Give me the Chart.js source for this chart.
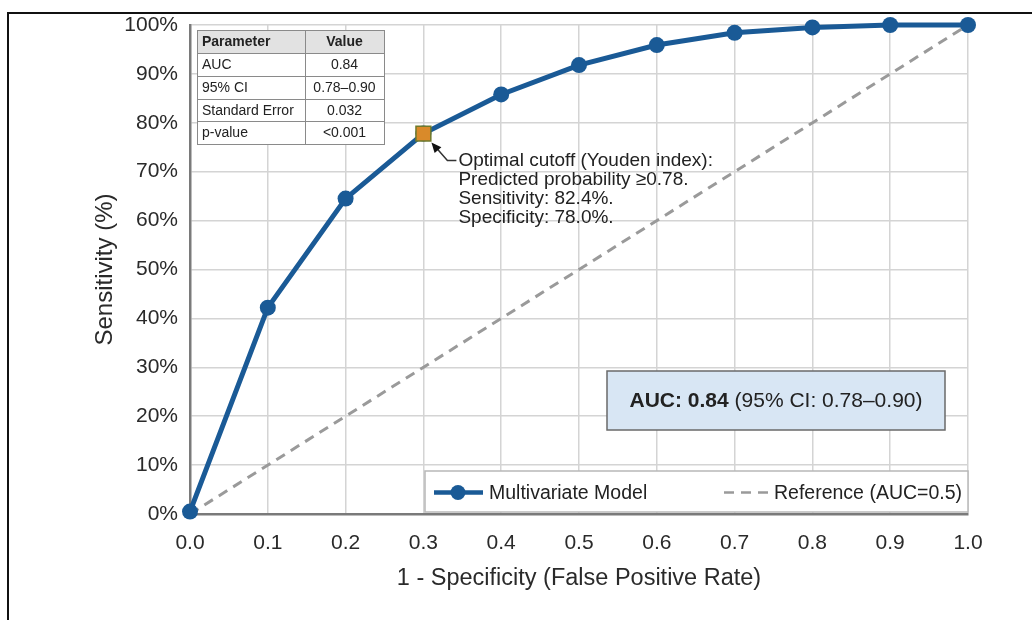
<!DOCTYPE html>
<html>
<head>
<meta charset="utf-8">
<script src="https://cdn.jsdelivr.net/npm/chart.js@4.4.1/dist/chart.umd.min.js"></script>
<style>
  html, body { margin: 0; padding: 0; background: #fff; }
  #wrap { width: 1032px; height: 620px; position: relative; }
</style>
</head>
<body>
<div id="wrap"><canvas id="roc"></canvas></div>
<script>
// Данные ROC-кривой
const fprValues = [0.0, 0.1, 0.2, 0.3, 0.4, 0.5, 0.6, 0.7, 0.8, 0.9, 1.0];
const sensitivityValues = [0.5, 42.2, 64.5, 77.8, 85.8, 91.8, 95.9, 98.4, 99.5, 100, 100];
const referenceX = [0, 1];
const referenceY = [0, 100];
const cutoffX = [0.3];
const cutoffY = [77.8];

// Таблица параметров
const tableHeaders = ['Parameter', 'Value'];
const tableParams = ['AUC', '95% CI', 'Standard Error', 'p-value'];
const tableValues = ['0.84', '0.78–0.90', '0.032', '<0.001'];

const cutoffLines = [
    'Optimal cutoff (Youden index):',
    'Predicted probability ≥0.78.',
    'Sensitivity: 82.4%.',
    'Specificity: 78.0%.'
];

const FONT = '"Liberation Sans", Arial, sans-serif';
const BLUE = '#1a5a96';
const GRAY_DASH = '#9a9a9a';

const toPoints = (xs, ys) => xs.map((x, i) => ({ x: x, y: ys[i] }));

// Плагин для таблицы, подписи, блока AUC, легенды и рамки
const overlayPlugin = {
    id: 'overlay',
    afterDraw(chart) {
        const ctx = chart.ctx;
        const xs = chart.scales.x;
        const ys = chart.scales.y;
        const area = chart.chartArea;
        ctx.save();

        // Таблица
        const tx = 197, ty = 30, colW = [108, 79], rowH = [23, 23, 23, 22, 23];
        let y = ty;
        ctx.fillStyle = '#e2e2e2';
        ctx.fillRect(tx, ty, colW[0] + colW[1], rowH[0]);
        ctx.fillStyle = '#fff';
        ctx.fillRect(tx, ty + rowH[0], colW[0] + colW[1], rowH.slice(1).reduce((a, b) => a + b, 0));
        ctx.strokeStyle = '#8a8a8a';
        ctx.lineWidth = 1;
        const rows = [tableHeaders].concat(tableParams.map((p, i) => [p, tableValues[i]]));
        rows.forEach((row, r) => {
            ctx.strokeRect(tx + 0.5, y + 0.5, colW[0], rowH[r]);
            ctx.strokeRect(tx + colW[0] + 0.5, y + 0.5, colW[1], rowH[r]);
            ctx.fillStyle = '#222';
            ctx.font = (r === 0 ? 'bold ' : '') + '14px ' + FONT;
            ctx.textBaseline = 'middle';
            ctx.textAlign = 'left';
            ctx.fillText(row[0], tx + 5, y + rowH[r] / 2 + 1);
            ctx.textAlign = 'center';
            ctx.fillText(row[1], tx + colW[0] + colW[1] / 2, y + rowH[r] / 2 + 1);
            y += rowH[r];
        });

        // Подпись оптимальной точки
        const px = xs.getPixelForValue(cutoffX[0]);
        const py = ys.getPixelForValue(cutoffY[0]);
        const textX = px + 35, textY = py + 27;
        ctx.strokeStyle = '#333';
        ctx.lineWidth = 1.5;
        ctx.beginPath();
        ctx.moveTo(textX - 2, textY);
        ctx.lineTo(textX - 11, textY);
        ctx.lineTo(px + 10, py + 11);
        ctx.stroke();
        // наконечник стрелки
        const ang = Math.atan2((py + 11) - textY, (px + 10) - (textX - 11));
        const hx = px + 8, hy = py + 9;
        ctx.fillStyle = '#111';
        ctx.beginPath();
        ctx.moveTo(hx, hy);
        ctx.lineTo(hx - 11 * Math.cos(ang - 0.42), hy - 11 * Math.sin(ang - 0.42));
        ctx.lineTo(hx - 11 * Math.cos(ang + 0.42), hy - 11 * Math.sin(ang + 0.42));
        ctx.closePath();
        ctx.fill();
        ctx.fillStyle = '#222';
        ctx.font = '19px ' + FONT;
        ctx.textAlign = 'left';
        ctx.textBaseline = 'middle';
        cutoffLines.forEach((line, i) => ctx.fillText(line, textX, textY + i * 19));

        // Блок AUC
        const bx = 607, by = 371, bw = 338, bh = 59;
        ctx.fillStyle = '#d8e6f4';
        ctx.fillRect(bx, by, bw, bh);
        ctx.strokeStyle = '#6a6a6a';
        ctx.lineWidth = 1.5;
        ctx.strokeRect(bx, by, bw, bh);
        const boldPart = 'AUC: 0.84';
        const restPart = ' (95% CI: 0.78–0.90)';
        ctx.font = 'bold 21px ' + FONT;
        const w1 = ctx.measureText(boldPart).width;
        ctx.font = '21px ' + FONT;
        const w2 = ctx.measureText(restPart).width;
        const sx = bx + (bw - w1 - w2) / 2;
        ctx.fillStyle = '#222';
        ctx.textAlign = 'left';
        ctx.font = 'bold 21px ' + FONT;
        ctx.fillText(boldPart, sx, by + bh / 2 + 1);
        ctx.font = '21px ' + FONT;
        ctx.fillText(restPart, sx + w1, by + bh / 2 + 1);

        // Легенда (над осью X, чтобы линия оси осталась видна)
        const lx = 425, ly = 471, lw = area.right - 425, lh = area.bottom - 2 - 471;
        ctx.fillStyle = '#fff';
        ctx.fillRect(lx, ly, lw, lh);
        ctx.strokeStyle = '#b8b8b8';
        ctx.lineWidth = 1.5;
        ctx.strokeRect(lx, ly, lw, lh);
        const my = ly + lh / 2 + 1;
        ctx.strokeStyle = BLUE;
        ctx.lineWidth = 4.5;
        ctx.beginPath();
        ctx.moveTo(434, my);
        ctx.lineTo(483, my);
        ctx.stroke();
        ctx.fillStyle = BLUE;
        ctx.beginPath();
        ctx.arc(458, my, 7.5, 0, Math.PI * 2);
        ctx.fill();
        ctx.fillStyle = '#222';
        ctx.font = '19.5px ' + FONT;
        ctx.fillText('Multivariate Model', 489, my + 1);
        ctx.strokeStyle = GRAY_DASH;
        ctx.lineWidth = 2.5;
        ctx.setLineDash([10, 7]);
        ctx.beginPath();
        ctx.moveTo(724, my);
        ctx.lineTo(768, my);
        ctx.stroke();
        ctx.setLineDash([]);
        ctx.fillText('Reference (AUC=0.5)', 774, my + 1);

        // Внешняя рамка
        ctx.strokeStyle = '#111';
        ctx.lineWidth = 2;
        ctx.strokeRect(8, 13, 1200, 800);

        ctx.restore();
    }
};

const ctx = document.getElementById('roc').getContext('2d');
window.rocChart = new Chart(ctx, {
    type: 'line',
    data: {
        datasets: [
            {
                label: 'Optimal cutoff',
                data: toPoints(cutoffX, cutoffY),
                showLine: false,
                pointStyle: 'rect',
                pointRadius: 10.5,
                pointBackgroundColor: '#d98a2a',
                pointBorderColor: '#6f7a2c',
                pointBorderWidth: 1.5,
                clip: false
            },
            {
                label: 'Multivariate Model',
                data: toPoints(fprValues, sensitivityValues),
                borderColor: BLUE,
                backgroundColor: BLUE,
                borderWidth: 5,
                pointRadius: 8,
                pointBackgroundColor: BLUE,
                pointBorderColor: BLUE,
                pointBorderWidth: 0,
                tension: 0,
                clip: false
            },
            {
                label: 'Reference (AUC=0.5)',
                data: toPoints(referenceX, referenceY),
                borderColor: GRAY_DASH,
                borderWidth: 3,
                borderDash: [10, 7],
                pointRadius: 0,
                clip: false
            }
        ]
    },
    options: {
        responsive: true,
        maintainAspectRatio: false,
        animation: false,
        layout: { padding: { left: 87, right: 64, top: 25, bottom: 23 } },
        plugins: {
            legend: { display: false },
            tooltip: { enabled: false }
        },
        scales: {
            x: {
                type: 'linear',
                min: 0,
                max: 1,
                afterFit: s => { s.height = 83; },
                ticks: {
                    stepSize: 0.1,
                    padding: 17,
                    color: '#2a2a2a',
                    font: { family: FONT, size: 21 },
                    callback: v => v.toFixed(1)
                },
                grid: { color: '#d4d4d4', lineWidth: 1.5, drawTicks: false },
                border: { color: '#7a7a7a', width: 2.5 },
                title: {
                    display: true,
                    text: '1 - Specificity (False Positive Rate)',
                    color: '#2a2a2a',
                    font: { family: FONT, size: 23.5 },
                    padding: { top: 4, bottom: 4 }
                }
            },
            y: {
                min: 0,
                max: 100,
                afterFit: s => { s.width = 103; },
                ticks: {
                    stepSize: 10,
                    padding: 12,
                    color: '#2a2a2a',
                    font: { family: FONT, size: 21 },
                    callback: v => v + '%'
                },
                grid: { color: '#d4d4d4', lineWidth: 1.5, drawTicks: false },
                border: { color: '#7a7a7a', width: 2.5 },
                title: {
                    display: true,
                    text: 'Sensitivity (%)',
                    color: '#2a2a2a',
                    font: { family: FONT, size: 24 },
                    padding: { top: 4, bottom: 4 }
                }
            }
        }
    },
    plugins: [overlayPlugin]
});
</script>
</body>
</html>
